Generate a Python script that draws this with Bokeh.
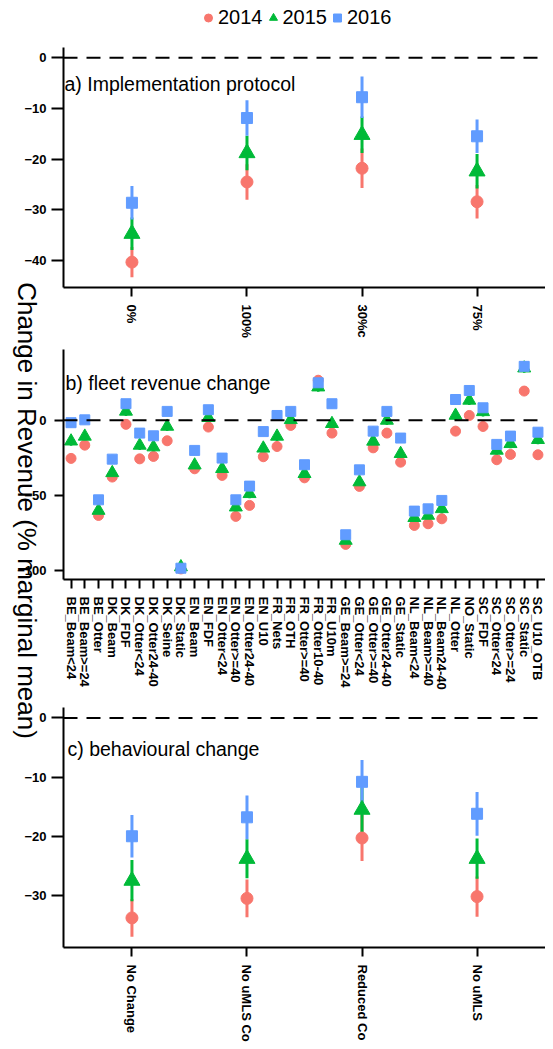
import math
from bokeh.plotting import figure
from bokeh.models import (FactorRange, Range1d, Span, Label, Legend, LegendItem,
                          FixedTicker)
from bokeh.layouts import column, row
from bokeh.embed import file_html
from bokeh.resources import INLINE

FONT = "Liberation Sans"
COLORS = {"2014": "#F8766D", "2015": "#00BA38", "2016": "#619CFF"}
MARKERS = {"2014": "circle", "2015": "triangle", "2016": "square"}
YEARS = ["2014", "2015", "2016"]

# ---------------- panel a: implementation protocol ----------------
a_cats = ["0%", "100%", "30%c", "75%"]
a_2014 = [-40.3, -24.5, -21.8, -28.4]
a_2015 = [-34.7, -18.8, -15.2, -22.4]
a_2016 = [-28.6, -11.9, -7.8, -15.5]
a_err_2014 = [3.0, 3.5, 3.9, 3.3]
a_err_2015 = [3.2, 3.4, 3.6, 3.4]
a_err_2016 = [3.3, 3.5, 4.1, 3.3]
a_yticks = [-40, -30, -20, -10, 0]

# ---------------- panel b: fleet revenue change ----------------
b_cats = ["BE_Beam<24", "BE_Beam>=24", "BE_Otter", "DK_Beam", "DK_FDF",
          "DK_Otter<24", "DK_Otter24-40", "DK_Seine", "DK_Static", "EN_Beam",
          "EN_FDF", "EN_Otter<24", "EN_Otter>=40", "EN_Otter24-40", "EN_U10",
          "FR_Nets", "FR_OTH", "FR_Otter>=40", "FR_Otter10-40", "FR_U10m",
          "GE_Beam>=24", "GE_Otter<24", "GE_Otter>=40", "GE_Otter24-40", "GE_Static",
          "NL_Beam<24", "NL_Beam>=40", "NL_Beam24-40", "NL_Otter", "NO_Static",
          "SC_FDF", "SC_Otter<24", "SC_Otter>=24", "SC_Static", "SC_U10_OTB"]
b_2014 = [-25.4, -16.6, -63.3, -37.8, -2.8, -25.7, -24.1, -13.7, -98.8, -32.3,
          -4.6, -36.7, -63.9, -56.6, -24.3, -17.5, -3.5, -38.3, 26.5, -8.6,
          -82.5, -44.0, -18.4, -8.6, -27.9, -69.9, -68.8, -65.5, -7.3, 3.1,
          -4.2, -26.3, -22.8, 19.3, -23.0]
b_2015 = [-14.0, -10.8, -60.0, -35.0, 5.8, -16.8, -17.9, -4.2, -97.5, -29.9,
          1.6, -32.3, -57.8, -48.9, -18.7, -10.8, 0.2, -35.6, 21.9, -2.4,
          -79.9, -41.1, -14.1, -0.2, -22.3, -64.8, -63.3, -58.9, 3.1, 13.1,
          5.5, -20.1, -15.7, 34.5, -13.0]
b_2016 = [-1.7, 0.2, -52.9, -25.9, 10.9, -8.6, -10.4, 5.8, -98.3, -20.1,
          6.9, -25.2, -52.9, -43.8, -7.6, 3.1, 5.8, -29.6, 24.8, 10.9,
          -76.1, -33.0, -7.3, 5.8, -11.9, -60.4, -58.9, -53.3, 13.7, 19.7,
          8.2, -16.1, -10.6, 35.7, -8.0]
b_err = {"2014": 3.0, "2015": 3.0, "2016": 3.0}
b_yticks = [-100, -50, 0]

# ---------------- panel c: behavioural change ----------------
c_cats = ["No Change", "No uMLS Co", "Reduced Co", "No uMLS"]
c_2014 = [-33.8, -30.5, -20.3, -30.2]
c_2015 = [-27.5, -23.8, -15.5, -23.8]
c_2016 = [-20.0, -16.8, -10.8, -16.2]
c_err_2014 = [3.2, 3.2, 3.9, 3.4]
c_err_2015 = [3.5, 3.3, 3.8, 3.4]
c_err_2016 = [3.6, 3.7, 3.7, 3.7]
c_yticks = [-30, -20, -10, 0]

W = 545

a_vals = {"2014": a_2014, "2015": a_2015, "2016": a_2016}


def clean(p):
    p.xgrid.visible = False
    p.ygrid.visible = False
    p.outline_line_color = None
    p.background_fill_color = None
    p.border_fill_color = None


def style_axes(p, yticks, xsize, tick_out_y, standoff_y):
    clean(p)
    for ax in (p.xaxis[0], p.yaxis[0]):
        ax.axis_line_width = 2
        ax.axis_line_color = "black"
        ax.major_tick_line_width = 2
        ax.major_tick_line_color = "black"
        ax.major_tick_in = 0
        ax.minor_tick_line_color = None
        ax.major_label_text_font = FONT
        ax.major_label_text_font_style = "bold"
        ax.major_label_text_color = "black"
    p.yaxis[0].ticker = FixedTicker(ticks=yticks, minor_ticks=[])
    p.yaxis[0].major_tick_out = tick_out_y
    p.yaxis[0].major_label_standoff = standoff_y
    p.yaxis[0].major_label_text_font_size = "13px"
    p.xaxis[0].major_tick_out = 9
    p.xaxis[0].major_label_standoff = 8
    p.xaxis[0].major_label_orientation = -math.pi / 2
    p.xaxis[0].major_label_text_font_size = xsize


def make_panel(cats, vals, errs, yrange, yticks, height, mbt, mbb, mbl, xpad,
               title, title_y, title_dx, sizes, bar_w, tick_out_y, standoff_y, xsize):
    p = figure(width=W, height=height,
               x_range=FactorRange(factors=cats, range_padding=xpad,
                                   range_padding_units="absolute"),
               y_range=Range1d(*yrange),
               output_backend="svg", toolbar_location=None,
               min_border_left=mbl, min_border_right=0,
               min_border_top=mbt, min_border_bottom=mbb)
    style_axes(p, yticks, xsize, tick_out_y, standoff_y)
    p.add_layout(Span(location=0, dimension="width", line_color="black",
                      line_width=2, line_dash="14 9"))
    # error bars first, then the points
    for yr in YEARS:
        v = vals[yr]
        e = errs[yr]
        lo = [vi - ei for vi, ei in zip(v, e)]
        hi = [vi + ei for vi, ei in zip(v, e)]
        p.segment(x0=cats, y0=lo, x1=cats, y1=hi, line_color=COLORS[yr],
                  line_width=bar_w)
    for yr in YEARS:
        p.scatter(x=cats, y=vals[yr], marker=MARKERS[yr], size=sizes[yr],
                  fill_color=COLORS[yr], line_color=COLORS[yr])
    p.add_layout(Label(x=title_dx, y=title_y, x_units="screen", y_units="data",
                       text=title, text_font=FONT, text_font_size="19.5px",
                       text_color="black", text_baseline="middle",
                       text_align="left"))
    return p


big = {"2014": 12, "2015": 16, "2016": 11}
small = {"2014": 10, "2015": 13, "2016": 10}

# legend strip on top: the same panel-a series, outside this strip's y range,
# so only their legend keys show
leg = figure(width=W, height=40, x_range=FactorRange(factors=a_cats),
             y_range=Range1d(0, 1),
             output_backend="svg", toolbar_location=None,
             x_axis_location=None, y_axis_location=None, min_border=0)
clean(leg)
leg_r = {yr: leg.scatter(x=a_cats, y=a_vals[yr], marker=MARKERS[yr], size=10,
                         fill_color=COLORS[yr], line_color=COLORS[yr])
         for yr in YEARS}
legend = Legend(items=[LegendItem(label=yr, renderers=[leg_r[yr]]) for yr in YEARS],
                orientation="horizontal", location=(135, 10),
                glyph_width=20, glyph_height=25, label_standoff=0, spacing=0,
                padding=0, margin=0, border_line_color=None,
                background_fill_color=None,
                label_text_font=FONT, label_text_font_size="20px",
                label_text_color="black")
leg.add_layout(legend)

pa = make_panel(a_cats, a_vals,
                {"2014": a_err_2014, "2015": a_err_2015, "2016": a_err_2016},
                (-45.3, 2.0), a_yticks, 305, 7, 58, 54, 0.095,
                "a) Implementation protocol", -5.2, 1, big, 3, 12, 5, "13px")

pb = make_panel(b_cats, {"2014": b_2014, "2015": b_2015, "2016": b_2016},
                {yr: [b_err[yr]] * len(b_cats) for yr in YEARS},
                (-105.8, 46.9), b_yticks, 360, 4, 126, 63, 0.05,
                "b) fleet revenue change", 24.4, 2, small, 2.5, 9, 8, "13px")

pc = make_panel(c_cats, {"2014": c_2014, "2015": c_2015, "2016": c_2016},
                {"2014": c_err_2014, "2015": c_err_2015, "2016": c_err_2016},
                (-38.8, 1.76), c_yticks, 344, 2, 102, 54, 0.095,
                "c) behavioural change", -5.2, 4, big, 3, 12, 5, "13px")

TOTAL_H = 40 + 305 + 360 + 344

# shared y label
lab = figure(width=40, height=TOTAL_H, x_range=Range1d(0, 1), y_range=Range1d(0, 1),
             output_backend="svg", toolbar_location=None,
             x_axis_location=None, y_axis_location=None, min_border=0)
clean(lab)
lab.add_layout(Label(x=26, y=TOTAL_H - 510, x_units="screen", y_units="screen",
                     text="Change in Revenue (% marginal mean)",
                     angle=-math.pi / 2, text_align="center",
                     text_baseline="middle", text_font=FONT,
                     text_font_size="26px", text_color="black"))

col = column(leg, pa, pb, pc, margin=(0, 0, 0, -40))
layout = row(lab, col)

open("out.html", "w").write(file_html(layout, INLINE))
